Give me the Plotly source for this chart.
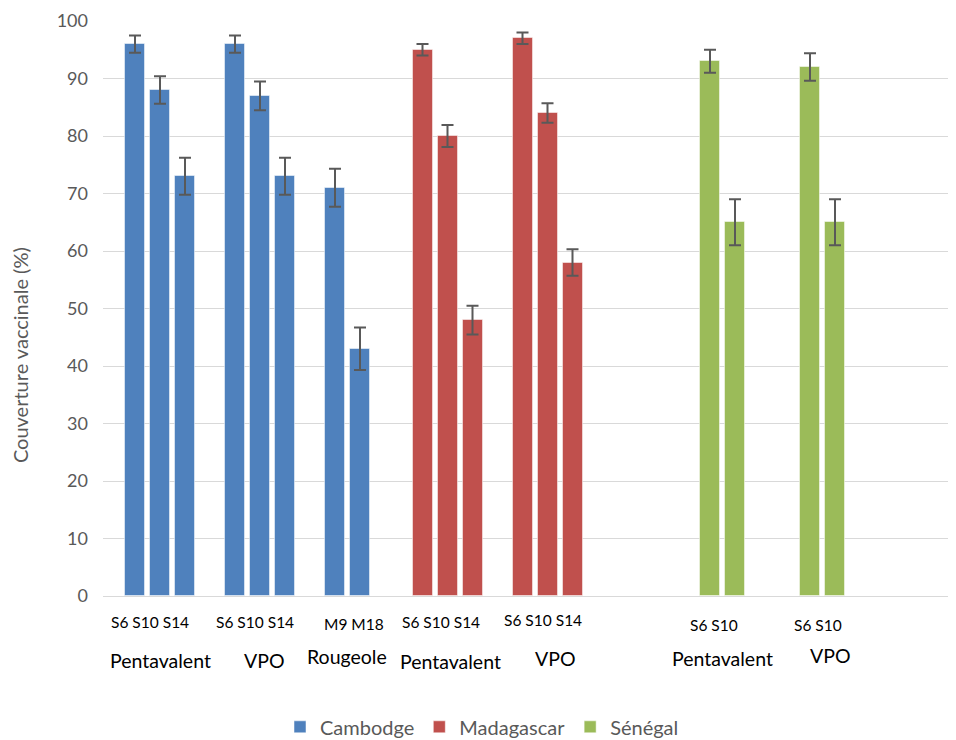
import plotly.graph_objects as go

# ---- data ----
countries = ["Cambodge", "Madagascar", "Sénégal"]
group_country = ["Cambodge", "Cambodge", "Cambodge", "Madagascar", "Madagascar", "Sénégal", "Sénégal"]
group_names = ["Pentavalent", "VPO", "Rougeole", "Pentavalent", "VPO", "Pentavalent", "VPO"]
group_doses = [["S6", "S10", "S14"], ["S6", "S10", "S14"], ["M9", "M18"],
               ["S6", "S10", "S14"], ["S6", "S10", "S14"], ["S6", "S10"], ["S6", "S10"]]
group_values = [[96, 88, 73], [96, 87, 73], [71, 43],
                [95, 80, 48], [97, 84, 58], [93, 65], [92, 65]]
group_errors = [[1.5, 2.4, 3.2], [1.5, 2.5, 3.2], [3.3, 3.7],
                [1.0, 1.9, 2.5], [1.0, 1.7, 2.3], [2.0, 4.0], [2.4, 4.0]]
y_ticks = [0, 10, 20, 30, 40, 50, 60, 70, 80, 90, 100]
y_title = "Couverture vaccinale (%)"

# ---- layout (slot spacing between groups) ----
gaps_before = [0, 2, 2, 2.5, 2, 5.5, 3]
colors = {"Cambodge": "#4F81BD", "Madagascar": "#C0504D", "Sénégal": "#9BBB59"}
FONT = "Lato"
GREY = "#595959"

xs, pos = [], -1
for g, doses in enumerate(group_doses):
    pos += gaps_before[g] if g else 1
    xg = []
    for i, _ in enumerate(doses):
        if i:
            pos += 1
        xg.append(pos)
    xs.append(xg)

fig = go.Figure()
for c in countries:
    x, y, e, t = [], [], [], []
    for g in range(len(group_names)):
        if group_country[g] != c:
            continue
        x += xs[g]
        y += group_values[g]
        e += group_errors[g]
        t += [f"{group_names[g]} {d}" for d in group_doses[g]]
    fig.add_trace(go.Bar(
        x=x, y=y, name=c, width=0.8, hovertext=t,
        marker=dict(color=colors[c], line=dict(color="rgba(255,255,255,0.5)", width=1)),
        error_y=dict(type="data", array=e, visible=True, color=GREY, thickness=2, width=6),
    ))

# category labels under groups
ann = []
dose_shift = [-10, -5, 6, -7, -5, -9, -5]
dose_y = [-0.046, -0.046, -0.048, -0.046, -0.042, -0.050, -0.050]
name_shift = [0, 4, -1, 3, 8, 0, 8]
name_y = [-0.112, -0.112, -0.106, -0.114, -0.109, -0.109, -0.103]
for g in range(len(group_names)):
    center = (xs[g][0] + xs[g][-1]) / 2
    ann.append(dict(x=center, y=dose_y[g], xref="x", yref="paper", text=" ".join(group_doses[g]),
                    showarrow=False, xshift=dose_shift[g], yanchor="middle",
                    font=dict(family=FONT, size=15.5, color="#000000")))
    ann.append(dict(x=center, y=name_y[g], xref="x", yref="paper", text=group_names[g],
                    showarrow=False, xshift=name_shift[g], yanchor="middle",
                    font=dict(family=FONT, size=19.5, color="#000000")))

# y-axis title (placed as in the reference, below the axis centre)
ann.append(dict(x=0, y=0.419, xref="paper", yref="paper", xshift=-83, text=y_title, textangle=-90,
                showarrow=False, xanchor="center", yanchor="middle",
                font=dict(family=FONT, size=20, color=GREY)))

fig.update_layout(
    width=948, height=732,
    margin=dict(l=95, r=6, t=13, b=144, autoexpand=False),
    paper_bgcolor="white", plot_bgcolor="white",
    bargap=0, barmode="overlay",
    font=dict(family=FONT, color=GREY),
    annotations=ann,
    legend=dict(orientation="h", x=0.50, xanchor="center", xref="container",
                y=0.018, yanchor="middle", yref="container",
                font=dict(family=FONT, size=20, color=GREY), itemwidth=30, traceorder="normal"),
    xaxis=dict(range=[-1.28, 32.6], showticklabels=False, showgrid=False, zeroline=False,
               showline=False, ticks="", automargin=False),
    yaxis=dict(range=[0, 100], tickvals=y_ticks, showgrid=True, gridcolor="#D9D9D9", gridwidth=1,
               zeroline=True, zerolinecolor="#D9D9D9", zerolinewidth=1, automargin=False,
               tickfont=dict(family=FONT, size=18, color=GREY), ticks="", ticklabelstandoff=14),
)

fig.write_html("out.html")
